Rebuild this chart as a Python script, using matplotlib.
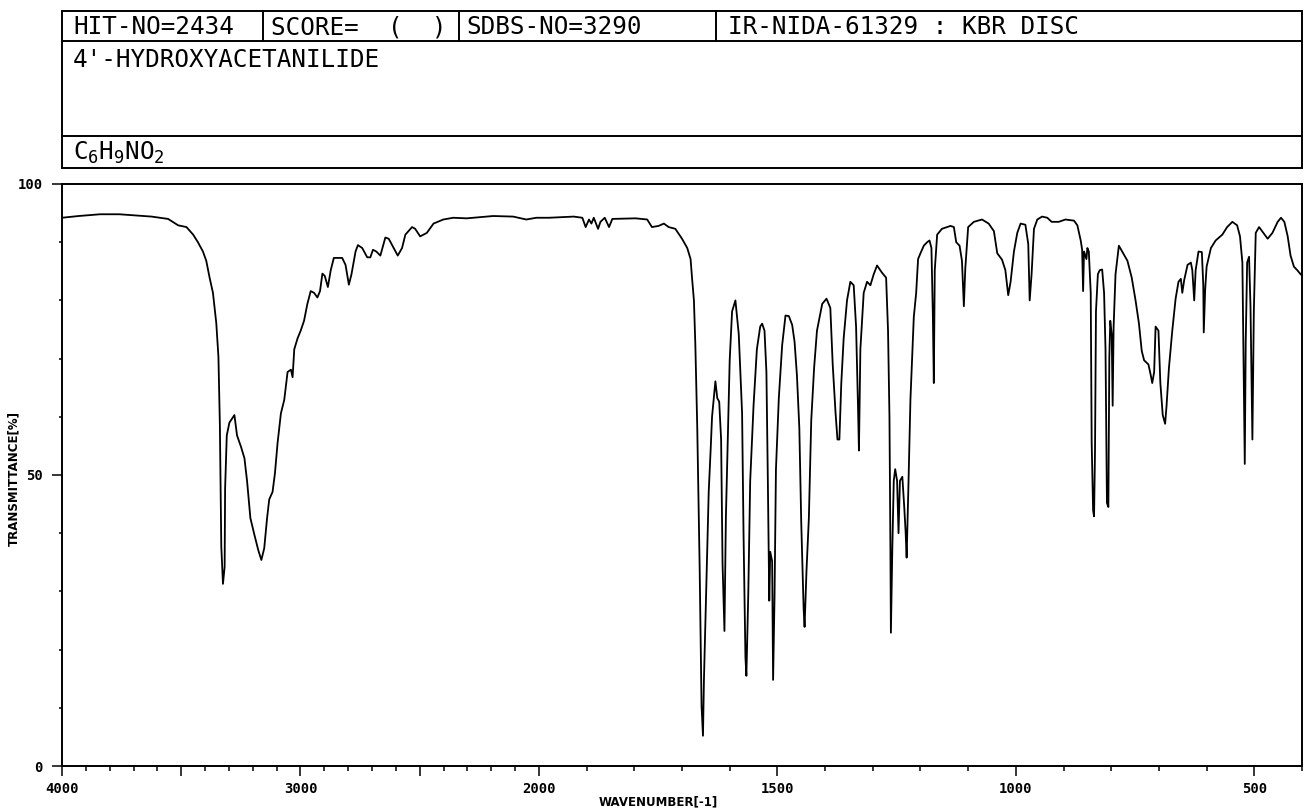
import numpy as np
import matplotlib
matplotlib.use("Agg")
import matplotlib.pyplot as plt
from matplotlib.patches import Rectangle
from matplotlib.ticker import FixedLocator

plt.rcParams['mathtext.fontset'] = 'custom'
plt.rcParams['mathtext.rm'] = 'DejaVu Sans Mono'

# header texts
hit_no = "HIT-NO=2434"
score = "SCORE=  (  )"
sdbs_no = "SDBS-NO=3290"
ir_code = "IR-NIDA-61329 : KBR DISC"
compound = "4'-HYDROXYACETANILIDE"
formula = r"$\mathrm{C_6H_9NO_2}$"

# spectrum (wavenumber in cm-1, transmittance in %)
wavenumber = [
    4000, 3930, 3840, 3760, 3624, 3555, 3513, 3478, 3450, 3430, 3409, 3395, 3381, 3367,
    3353, 3344, 3338, 3332, 3325, 3318, 3316, 3309, 3298, 3277, 3266, 3249, 3235, 3224,
    3210, 3193, 3177, 3164, 3152, 3140, 3131, 3117, 3107, 3096, 3082, 3068, 3054, 3040,
    3033, 3026, 3012, 2999, 2985, 2971, 2957, 2943, 2929, 2918, 2908, 2898, 2885, 2873,
    2860, 2825, 2811, 2797, 2786, 2769, 2759, 2741, 2720, 2707, 2696, 2682, 2665, 2644,
    2630, 2609, 2592, 2574, 2560, 2532, 2519, 2498, 2470, 2442, 2401, 2359, 2303, 2192,
    2108, 2053, 2011,
    1979, 1927, 1909, 1902, 1895, 1890, 1885, 1876, 1871, 1862, 1853, 1846, 1797, 1773,
    1763, 1749, 1738, 1728, 1714, 1700, 1689, 1682, 1679, 1675, 1672, 1668, 1663, 1659,
    1656, 1654, 1649, 1644, 1640, 1637, 1633, 1630, 1626, 1622, 1618, 1615, 1611, 1608,
    1603, 1600, 1595, 1588, 1581, 1574, 1571, 1567, 1565, 1561, 1557, 1550, 1543, 1536,
    1532, 1527, 1523, 1520, 1517, 1515, 1511, 1509, 1506, 1503, 1497, 1490, 1483, 1476,
    1469, 1464, 1459, 1454, 1450, 1445, 1443, 1439, 1434, 1429, 1423, 1417, 1406, 1397,
    1389, 1384, 1378, 1374, 1370, 1366, 1361, 1354, 1347, 1340, 1335, 1331, 1329, 1326,
    1319, 1312, 1305, 1298, 1291, 1281, 1272, 1268, 1265, 1263, 1262, 1259, 1256, 1253,
    1249, 1246, 1243, 1238, 1234, 1231, 1229, 1225, 1221, 1217, 1214, 1209, 1205, 1200,
    1193, 1186, 1181, 1177, 1174, 1172, 1170, 1165, 1155, 1137, 1130, 1125, 1118, 1113,
    1109, 1106, 1100, 1088, 1071, 1057, 1046, 1039, 1029, 1022, 1016, 1011, 1004, 997,
    990, 980, 974, 971, 967, 962, 955, 945, 934, 925, 910, 896, 878, 871,
    864, 861, 859, 857, 852, 850, 847, 843, 841, 838, 836, 834, 832, 828,
    824, 819, 815, 812, 809, 806, 804, 802, 799, 797, 795, 791, 784, 777,
    766, 757, 749, 742, 736, 731, 722, 717, 714, 710, 707, 701, 697, 692,
    687, 684, 679, 672, 665, 659, 654, 651, 647, 640, 633, 630, 626, 623,
    617, 610, 607, 606, 603, 600, 591, 581, 567, 557, 546, 536, 530, 525,
    523, 520, 518, 515, 511, 508, 504, 501, 497, 490, 481, 472, 462, 451,
    444, 437, 430, 424, 417, 410, 403, 400,
]
transmittance = [
    94.2, 94.5, 94.8, 94.8, 94.4, 94.0, 92.9, 92.6, 91.3, 90.0, 88.4, 86.8, 83.9, 81.3,
    76.1, 70.3, 58.7, 37.7, 31.3, 34.2, 47.7, 56.8, 59.0, 60.3, 56.8, 54.8, 52.9, 49.0,
    42.6, 39.7, 37.1, 35.4, 37.4, 42.6, 45.8, 47.1, 50.3, 55.5, 60.6, 62.9, 67.7, 68.1,
    66.8, 71.6, 73.5, 74.8, 76.5, 79.4, 81.6, 81.3, 80.5, 81.6, 84.6, 84.2, 82.3, 85.2,
    87.3, 87.3, 86.1, 82.7, 84.5, 88.4, 89.5, 89.0, 87.4, 87.4, 88.7, 88.4, 87.7, 90.8,
    90.6, 89.0, 87.7, 89.0, 91.3, 92.6, 92.3, 91.0, 91.6, 93.2, 93.9, 94.2, 94.1, 94.5,
    94.4, 93.9, 94.2,
    94.2, 94.4, 94.2, 92.6, 93.9, 93.2, 94.2, 92.3, 93.5, 94.2, 92.6, 94.0, 94.1, 93.9,
    92.6, 92.8, 93.2, 92.6, 92.3, 90.6, 89.0, 87.1, 83.9, 80.0, 72.3, 58.1, 34.2, 10.3,
    5.2, 14.8, 31.3, 47.1, 54.2, 60.0, 63.5, 66.1, 63.2, 62.6, 56.1, 34.8, 23.2, 42.6,
    60.0, 69.7, 78.1, 80.0, 74.2, 60.6, 40.0, 18.7, 15.5, 29.7, 49.0, 61.9, 71.6, 75.5,
    76.0, 74.8, 67.7, 49.0, 28.4, 36.8, 35.2, 14.8, 29.0, 51.0, 63.2, 72.3, 77.4, 77.3,
    75.8, 72.9, 67.1, 58.1, 41.9, 27.1, 23.9, 33.5, 42.6, 59.4, 68.4, 74.8, 79.4, 80.3,
    78.7, 69.0, 60.6, 56.1, 56.1, 65.8, 73.5, 80.0, 83.2, 82.6, 75.5, 61.9, 54.2, 71.6,
    81.3, 83.2, 82.6, 84.5, 86.0, 84.8, 83.9, 74.8, 60.0, 37.4, 22.9, 37.4, 49.0, 51.0,
    49.0, 40.0, 49.0, 49.7, 44.5, 40.0, 35.8, 49.0, 63.0, 71.0, 77.1, 81.3, 87.1, 88.1,
    89.4, 90.0, 90.3, 89.0, 77.4, 65.8, 85.2, 91.3, 92.3, 92.8, 92.6, 90.0, 89.4, 86.8,
    79.0, 85.5, 92.6, 93.5, 93.9, 93.2, 91.9, 88.1, 87.0, 85.2, 80.9, 83.2, 88.4, 91.6,
    93.2, 93.0, 89.7, 80.0, 84.5, 92.3, 93.9, 94.4, 94.2, 93.5, 93.5, 93.9, 93.7, 92.9,
    90.3, 88.7, 81.6, 88.4, 87.1, 89.0, 88.4, 81.3, 55.5, 43.9, 42.9, 54.2, 78.1, 84.5,
    85.2, 85.3, 81.3, 71.6, 45.2, 44.5, 70.3, 76.5, 74.2, 61.9, 75.5, 84.5, 89.4, 88.4,
    86.8, 83.9, 80.0, 76.1, 71.3, 69.7, 69.0, 67.1, 65.8, 67.7, 75.5, 74.8, 65.8, 60.3,
    58.8, 61.9, 68.4, 74.8, 80.3, 83.2, 83.7, 81.3, 83.5, 86.1, 86.5, 85.2, 80.0, 85.2,
    88.4, 88.3, 82.6, 74.5, 81.9, 85.8, 89.0, 90.3, 91.3, 92.6, 93.5, 92.9, 91.0, 86.5,
    72.9, 51.9, 72.9, 86.5, 87.5, 79.0, 56.1, 78.1, 91.6, 92.6, 91.6, 90.6, 91.6, 93.5,
    94.2, 93.5, 91.0, 87.7, 85.8, 85.2, 84.5, 84.3,
]

major_ticks = [4000, 3500, 3000, 2500, 2000, 1500, 1000, 500]
major_labels = ["4000", "", "3000", "", "2000", "1500", "1000", "500"]
minor_ticks = list(range(400, 4001, 100))

W, H = 1308, 810
fig = plt.figure(figsize=(W / 100, H / 100), dpi=100)

# header boxes drawn in pixel coordinates
hdr = fig.add_axes([0, 0, 1, 1])
hdr.set_xlim(0, W)
hdr.set_ylim(H, 0)
hdr.axis("off")
lw = 1.4
hdr.add_patch(Rectangle((62, 11), 1240, 157, fill=False, lw=lw, ec="black"))
hdr.plot([62, 1302], [41, 41], color="black", lw=lw)
hdr.plot([62, 1302], [136, 136], color="black", lw=lw)
for xd in [263, 459, 716]:
    hdr.plot([xd, xd], [11, 41], color="black", lw=lw)

hfont = dict(family="DejaVu Sans Mono", fontsize=17.5, color="black")
hdr.text(73, 34, hit_no, va="baseline", **hfont)
hdr.text(271, 34, score, va="baseline", **hfont)
hdr.text(466, 34, sdbs_no, va="baseline", **hfont)
hdr.text(728, 34, ir_code, va="baseline", **hfont)
hdr.text(73, 67, compound, va="baseline", **hfont)
hdr.text(73, 160, formula, va="baseline", **hfont)

fig.text(14 / W, 1 - 478 / H, "TRANSMITTANCE[%]", rotation=90, ha="center", va="center",
         family="DejaVu Sans", weight="bold", fontsize=8.5)
fig.text(658 / W, 1 - 802 / H, "WAVENUMBER[-1]", ha="center", va="center",
         family="DejaVu Sans", weight="bold", fontsize=8.5)

# piecewise x scale: 2000-400 drawn at twice the scale of 4000-2000
def fwd(x):
    x = np.asarray(x, dtype=float)
    return np.where(x >= 2000, x, 2 * x - 2000)

def inv(u):
    u = np.asarray(u, dtype=float)
    return np.where(u >= 2000, u, (u + 2000) / 2)

ax = fig.add_axes([62 / W, 1 - 766 / H, 1240 / W, 582 / H])
ax.set_xscale("function", functions=(fwd, inv))
ax.plot(wavenumber, transmittance, color="black", lw=1.3)
ax.set_xlim(4000, 400)
ax.set_ylim(0, 100)

ax.xaxis.set_major_locator(FixedLocator(major_ticks))
ax.set_xticklabels(major_labels)
ax.xaxis.set_minor_locator(FixedLocator(minor_ticks))
ax.set_yticks([0, 50, 100])
ax.set_yticklabels(["0", "50", "100"])
ax.yaxis.set_minor_locator(FixedLocator(list(range(0, 101, 10))))

ax.tick_params(axis="both", which="major", direction="out", length=7.2, width=1.1,
               labelsize=10, pad=4.3)
ax.tick_params(axis="x", which="minor", direction="out", length=3.6, width=1.1)
ax.tick_params(axis="y", which="minor", direction="out", length=2.2, width=1.1)
ax.tick_params(axis="y", which="major", pad=6.5)
for lab in ax.get_xticklabels() + ax.get_yticklabels():
    lab.set_family("DejaVu Sans Mono")
    lab.set_weight("bold")
for sp in ax.spines.values():
    sp.set_linewidth(1.4)

fig.savefig("out.png", dpi=100)
